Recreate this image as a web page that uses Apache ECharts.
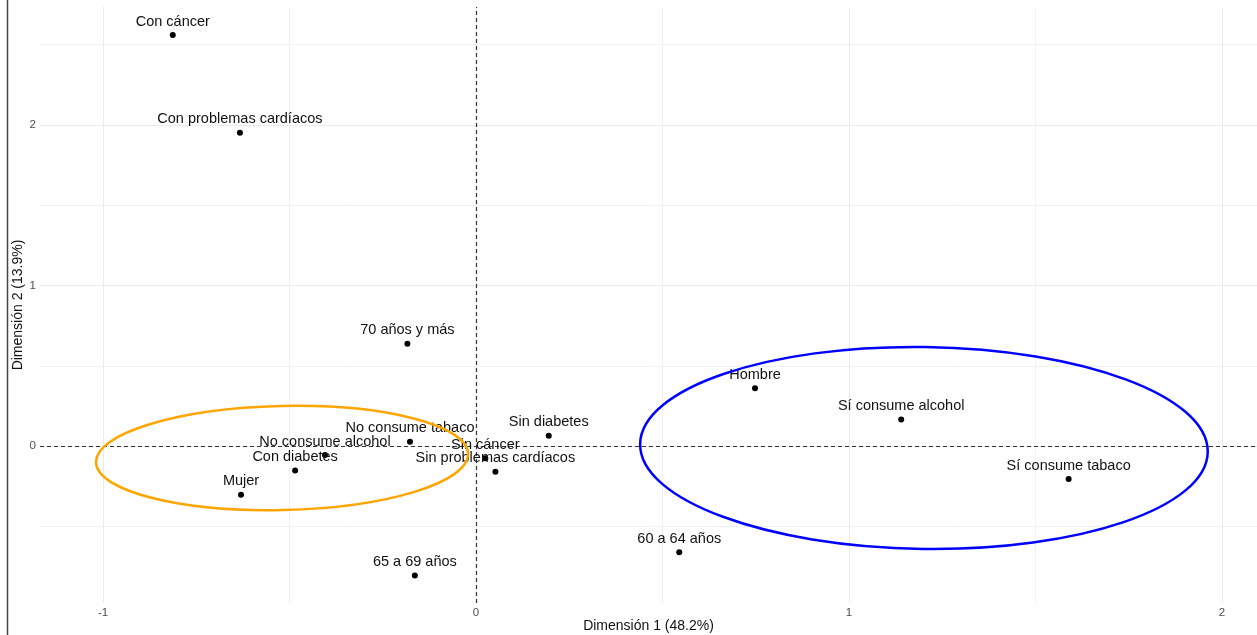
<!DOCTYPE html>
<html>
<head>
<meta charset="utf-8">
<script src="https://cdn.jsdelivr.net/npm/echarts@6/dist/echarts.min.js"></script>
<style>
  html, body { margin: 0; padding: 0; background: #ffffff; }
  #chart { width: 1257px; height: 635px; }
</style>
</head>
<body>
<div id="chart"></div>
<script>
// Category coordinates on the first two dimensions
const categories = [
  'Con cáncer', 'Con problemas cardíacos', '70 años y más', 'No consume tabaco',
  'No consume alcohol', 'Con diabetes', 'Mujer', '65 a 69 años',
  'Sin cáncer', 'Sin problemas cardíacos', 'Sin diabetes', 'Hombre',
  'Sí consume alcohol', 'Sí consume tabaco', '60 a 64 años'
];
const dim1 = [-0.813, -0.633, -0.184, -0.177, -0.405, -0.485, -0.630, -0.164,
              0.025, 0.052, 0.195, 0.748, 1.140, 1.589, 0.545];
const dim2 = [2.560, 1.952, 0.637, 0.027, -0.056, -0.153, -0.304, -0.806,
              -0.077, -0.160, 0.064, 0.360, 0.165, -0.206, -0.662];

// Group ellipses: centre, semi-axes (data units), tilt (degrees)
const ellipseCx = [-0.520, 1.201];
const ellipseCy = [-0.075, -0.012];
const ellipseRx = [0.499, 0.761];
const ellipseRy = [0.324, 0.629];
const ellipseTilt = [1.3, -0.8];
const ellipseColors = ['#FFA500', '#0000FF'];

// Axis ticks and grid
const xTicks = [-1, 0, 1, 2];
const yTicks = [0, 1, 2];
const xMinor = [-0.5, 0.5, 1.5];
const yMinor = [-0.5, 0.5, 1.5, 2.5];
const xRange = [-1.169, 2.094];
const yRange = [-0.978, 2.735];

const points = categories.map((name, i) => ({ name: name, value: [dim1[i], dim2[i]] }));
const ellipses = ellipseCx.map((cx, i) => [cx, ellipseCy[i], ellipseRx[i], ellipseRy[i], ellipseTilt[i]]);

const font = 'Liberation Sans, Arial, Helvetica, sans-serif';

function gridLines(values, axisKey, color, width) {
  return values.map(v => ({ [axisKey]: v, lineStyle: { color: color, width: width, type: 'solid' } }));
}

const chart = echarts.init(document.getElementById('chart'), null, { renderer: 'canvas' });

chart.setOption({
  backgroundColor: '#ffffff',
  animation: false,
  textStyle: { fontFamily: font },
  grid: { left: 40, right: 0, top: 7, bottom: 32, containLabel: false, outerBoundsMode: 'none' },
  xAxis: {
    type: 'value',
    min: xRange[0],
    max: xRange[1],
    axisLine: { show: false },
    axisTick: { show: false },
    splitLine: { show: false },
    axisLabel: {
      customValues: xTicks,
      color: '#4d4d4d',
      fontSize: 11.5,
      margin: 4,
      fontFamily: font,
      formatter: v => String(v)
    },
    name: 'Dimensión 1 (48.2%)',
    nameLocation: 'middle',
    nameGap: 16,
    nameMoveOverlap: false,
    nameTextStyle: { color: '#111', fontSize: 14, fontFamily: font }
  },
  yAxis: {
    type: 'value',
    min: yRange[0],
    max: yRange[1],
    axisLine: { show: false },
    axisTick: { show: false },
    splitLine: { show: false },
    axisLabel: {
      customValues: yTicks,
      color: '#4d4d4d',
      fontSize: 11.5,
      margin: 4,
      fontFamily: font,
      formatter: v => String(v)
    },
    name: 'Dimensión 2 (13.9%)',
    nameLocation: 'middle',
    nameGap: 15,
    nameMoveOverlap: false,
    nameTextStyle: { color: '#111', fontSize: 14, fontFamily: font }
  },
  graphic: [{
    type: 'line',
    shape: { x1: 7.5, y1: 0, x2: 7.5, y2: 635 },
    style: { stroke: '#444', lineWidth: 1.5 },
    silent: true
  }],
  series: [
    {
      // panel grid lines plus the dashed reference lines through the origin
      type: 'scatter',
      data: [],
      silent: true,
      z: 1,
      markLine: {
        silent: true,
        z: 1,
        symbol: 'none',
        label: { show: false },
        animation: false,
        data: [
          ...gridLines(xMinor, 'xAxis', '#f1f1f1', 1),
          ...gridLines(yMinor, 'yAxis', '#f1f1f1', 1),
          ...gridLines(xTicks, 'xAxis', '#ebebeb', 1),
          ...gridLines(yTicks, 'yAxis', '#ebebeb', 1),
          { xAxis: 0, lineStyle: { color: '#333', width: 1.2, type: [4, 3] } },
          { yAxis: 0, lineStyle: { color: '#333', width: 1.2, type: [4, 3] } }
        ]
      }
    },
    {
      type: 'scatter',
      data: points,
      symbol: 'circle',
      symbolSize: 6,
      z: 3,
      itemStyle: { color: '#000000', opacity: 1 },
      label: {
        show: true,
        position: 'top',
        distance: 3,
        formatter: p => p.name,
        color: '#111',
        fontSize: 14.5,
        fontFamily: font
      },
      labelLayout: { hideOverlap: false }
    },
    {
      type: 'custom',
      data: ellipses,
      z: 4,
      silent: true,
      renderItem: function (params, api) {
        const c = api.coord([api.value(0), api.value(1)]);
        const s = api.size([api.value(2), api.value(3)]);
        return {
          type: 'ellipse',
          x: c[0],
          y: c[1],
          rotation: api.value(4) * Math.PI / 180,
          shape: { cx: 0, cy: 0, rx: s[0], ry: s[1] },
          style: { fill: 'none', stroke: ellipseColors[params.dataIndex], lineWidth: 2.5 }
        };
      }
    }
  ]
});
</script>
</body>
</html>
